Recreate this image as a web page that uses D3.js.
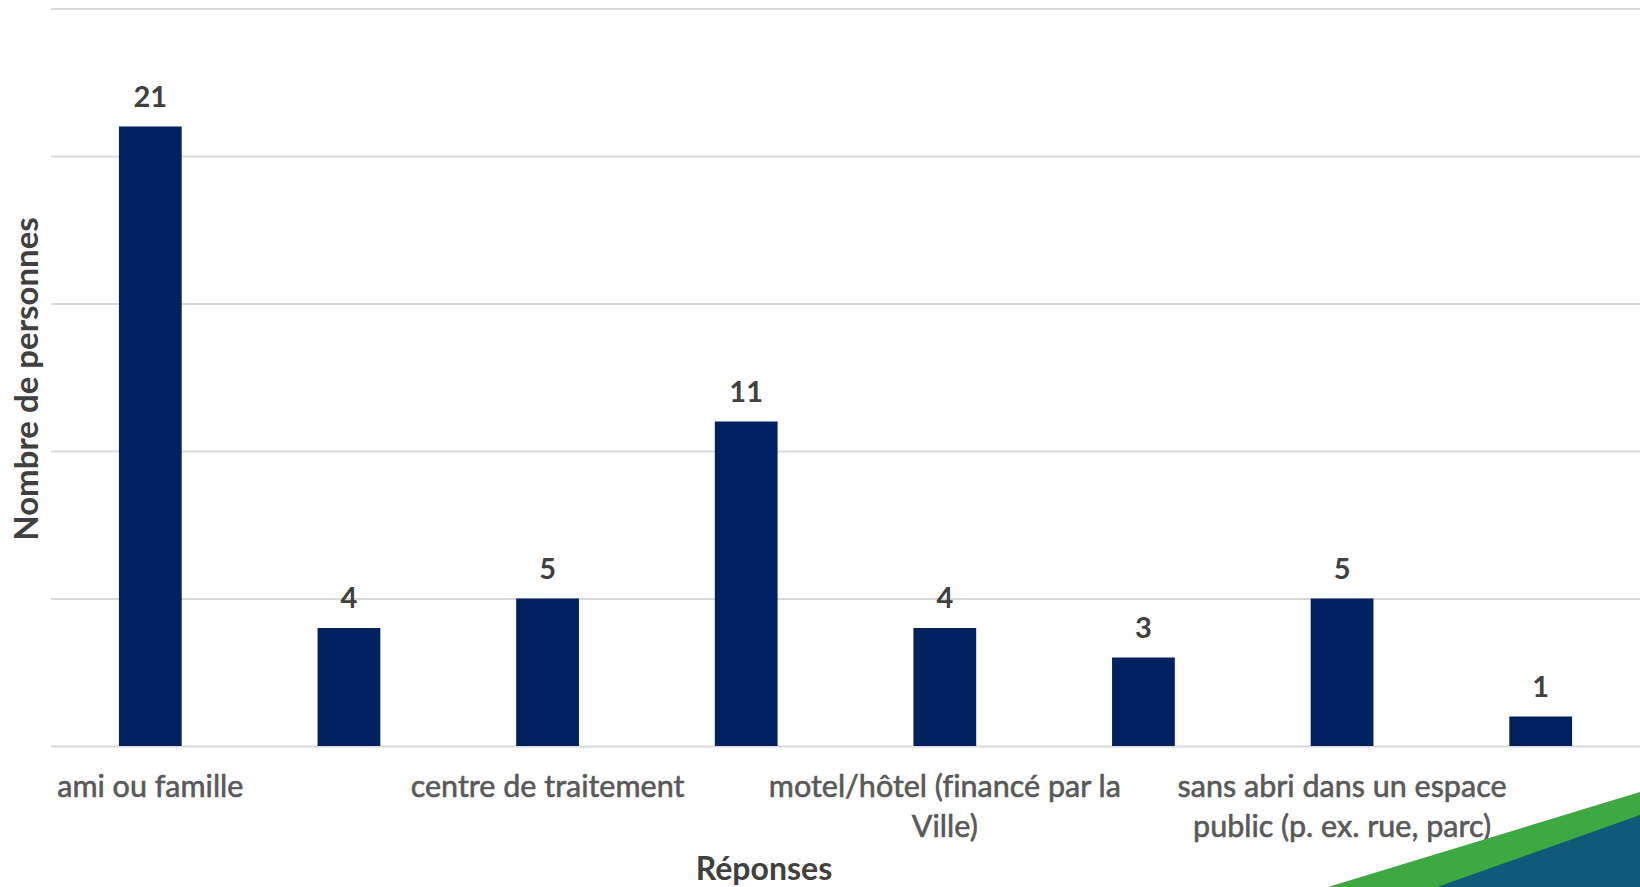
<!DOCTYPE html>
<html>
<head>
<meta charset="utf-8">
<script src="https://cdn.jsdelivr.net/npm/d3@7"></script>
<style>
  html, body { margin: 0; padding: 0; background: #fff; }
  svg { display: block; }
  text { font-family: Lato, "Open Sans", sans-serif; font-variant-ligatures: none; }
</style>
</head>
<body>
<div id="chart"></div>
<script>
(function(d3) {
    'use strict';

    // categories (only every other label is shown on the axis, like the original)
    var categories = [
      ['ami ou famille'],
      [],
      ['centre de traitement'],
      [],
      ['motel/hôtel (financé par la', 'Ville)'],
      [],
      ['sans abri dans un espace', 'public (p. ex. rue, parc)'],
      []
    ];
    var values = [21, 4, 5, 11, 4, 3, 5, 1];
    var yTicks = [0, 5, 10, 15, 20, 25];

    var width = 1640;
    var height = 887;
    var left = 51, right = 1640, top = 8.5, bottom = 746;

    var svg = d3.select('#chart')
      .append('svg')
      .attr('width', width)
      .attr('height', height);

    var x = d3.scaleBand()
      .domain(d3.range(values.length))
      .range([left, right])
      .paddingInner(0.684)
      .paddingOuter(0.342);

    var y = d3.scaleLinear()
      .domain([0, 25])
      .range([bottom, top]);

    // gridlines
    var grid = svg.append('g')
      .attr('transform', 'translate(' + left + ',0)')
      .call(d3.axisLeft(y).tickValues(yTicks).tickSize(-(right - left)).tickFormat(''));
    grid.select('.domain').remove();
    grid.selectAll('line')
      .attr('stroke', '#d9d9d9')
      .attr('stroke-width', 2);

    // bars
    svg.selectAll('.bar')
      .data(values)
      .enter()
      .append('rect')
      .attr('class', 'bar')
      .attr('x', function(d, i) { return x(i); })
      .attr('y', function(d) { return y(d); })
      .attr('width', x.bandwidth())
      .attr('height', function(d) { return y(0) - y(d); })
      .attr('fill', '#002060');

    // value labels
    svg.selectAll('.val')
      .data(values)
      .enter()
      .append('text')
      .attr('class', 'val')
      .attr('x', function(d, i) { return x(i) + x.bandwidth() / 2; })
      .attr('y', function(d) { return y(d) - 20; })
      .attr('text-anchor', 'middle')
      .attr('font-size', 29)
      .attr('font-weight', 700)
      .attr('fill', '#404040')
      .text(function(d) { return d; });

    // x axis labels
    var xAxis = svg.append('g')
      .attr('transform', 'translate(0,' + bottom + ')')
      .call(d3.axisBottom(x).tickSize(0).tickFormat(''));
    xAxis.select('.domain').remove();

    var lab = svg.selectAll('.cat')
      .data(categories)
      .enter()
      .append('text')
      .attr('class', 'cat')
      .attr('text-anchor', 'middle')
      .attr('font-size', 30.5)
      .attr('fill', '#595959')
      .attr('stroke', '#595959')
      .attr('stroke-width', 0.6)
      .attr('transform', function(d, i) {
        return 'translate(' + (x(i) + x.bandwidth() / 2) + ',' + (bottom + 51) + ')';
      });
    lab.selectAll('tspan')
      .data(function(d) { return d; })
      .enter()
      .append('tspan')
      .attr('x', 0)
      .attr('y', function(d, i) { return i * 40; })
      .text(function(d) { return d; });

    // axis titles
    svg.append('text')
      .attr('x', 764)
      .attr('y', 880)
      .attr('text-anchor', 'middle')
      .attr('font-size', 32)
      .attr('font-weight', 700)
      .attr('fill', '#404040')
      .text('Réponses');

    svg.append('text')
      .attr('transform', 'translate(38,379) rotate(-90)')
      .attr('text-anchor', 'middle')
      .attr('font-size', 33)
      .attr('font-weight', 700)
      .attr('fill', '#404040')
      .text('Nombre de personnes');

    // slide decoration, bottom right corner
    svg.append('path')
      .attr('d', 'M1328,887 L1640,792 L1640,887 Z')
      .attr('fill', '#3ea843');
    svg.append('path')
      .attr('d', 'M1437,887 L1640,815 L1640,887 Z')
      .attr('fill', '#0e5a78');

})(window.d3);
</script>
</body>
</html>
